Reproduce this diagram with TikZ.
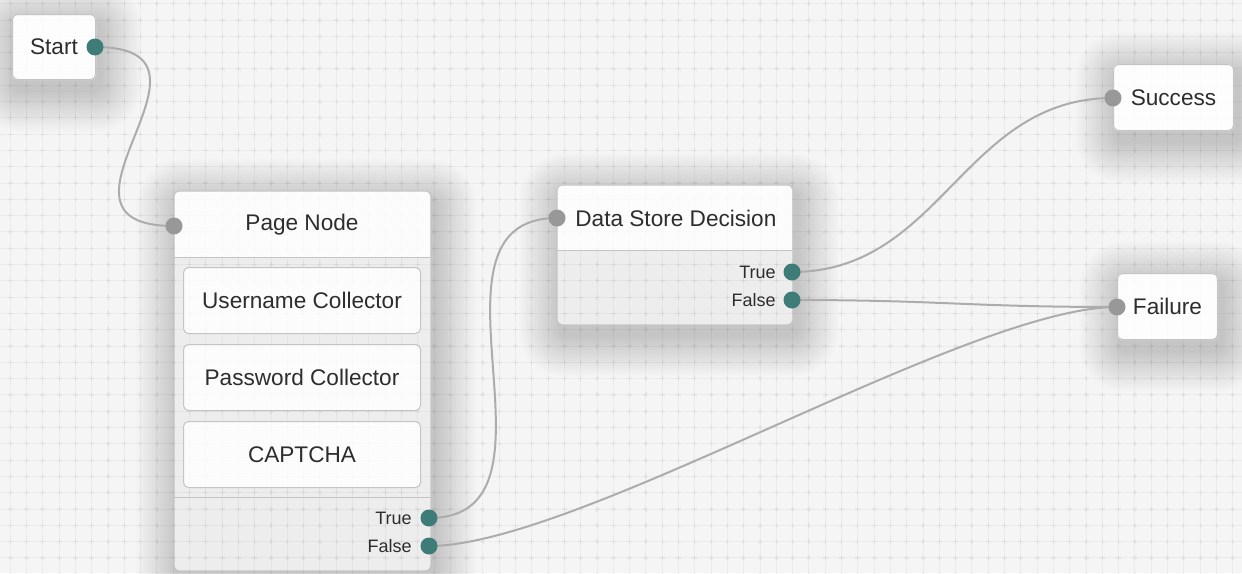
\documentclass[tikz,border=0pt]{standalone}
\usepackage{fontspec}
\setmainfont{Liberation Sans}
\definecolor{bgc}{RGB}{245,245,245}
\definecolor{boxline}{RGB}{196,196,196}
\definecolor{portteal}{RGB}{62,124,119}
\definecolor{portgray}{RGB}{152,152,152}
\definecolor{wirec}{RGB}{172,172,172}
\definecolor{txtc}{RGB}{45,45,45}
\newcommand\bigf{\fontsize{11.3pt}{13pt}\selectfont}
\newcommand\smallf{\fontsize{9pt}{11pt}\selectfont}
\newcommand\softshadow[1]{%
  \foreach \k in {1,...,16}{%
    \pgfmathsetmacro\rr{2.5+\k*1.3}%
    \pgfmathsetmacro\dd{\k*1.3}%
    \fill[black, opacity=0.010, rounded corners=\rr pt]
      ([shift={({-\dd pt+2pt},{\dd pt-5pt})}]#1.north west) rectangle
      ([shift={({\dd pt+2pt},{-\dd pt-5pt})}]#1.south east);
  }%
  \fill[bgc, rounded corners=2.5pt] (#1.north west) rectangle (#1.south east);
}
\pgfdeclarelayer{back}
\pgfdeclarelayer{shad}
\pgfdeclarelayer{gridlayer}
\pgfdeclarelayer{wires}
\pgfsetlayers{back,shad,gridlayer,wires,main}
\tikzset{
  box/.style={draw=boxline, line width=0.5pt, rounded corners=2.5pt, fill=white,
    fill opacity=0.84, text opacity=1, text=txtc, inner sep=0pt, anchor=north west, font=\bigf},
  bigbox/.style={rounded corners=2.5pt, fill=black, fill opacity=0.03, inner sep=0pt, anchor=north west},
  outline/.style={draw=boxline, line width=0.5pt, rounded corners=2.5pt},
  portout/.style={circle, inner sep=0pt, minimum size=8.5pt, fill=portteal},
  portin/.style={circle, inner sep=0pt, minimum size=8.5pt, fill=portgray},
  lbl/.style={text=txtc, inner sep=0pt, font=\bigf},
  plbl/.style={text=txtc, inner sep=0pt, font=\smallf, anchor=east},
  wire/.style={draw=wirec, line width=1pt},
  gridline/.style={draw=black, draw opacity=0.035, line width=0.5pt},
  gridcross/.style={draw=black, draw opacity=0.045, line width=0.6pt},
}
\begin{document}
\begin{tikzpicture}[x=0.5pt,y=-0.5pt]
\useasboundingbox (0,0) rectangle (1242,573);
\begin{pgfonlayer}{back}
\fill[bgc] (0,0) rectangle (1242,573);
\end{pgfonlayer}

% boxes
\node[box, minimum width=41.5pt, minimum height=32.5pt] (start) at (12,14) {Start};
\node[bigbox, minimum width=128pt, minimum height=189.5pt] (page) at (174,191) {};
\node[bigbox, minimum width=117.5pt, minimum height=69.5pt] (dsd) at (557,185) {};
\node[box, minimum width=60pt, minimum height=33pt] (succ) at (1113,64) {Success};
\node[box, minimum width=50pt, minimum height=33pt] (fail) at (1117,273) {Failure};

% shadows
\begin{pgfonlayer}{shad}
\begin{scope}
\clip (0,0) rectangle (1242,573);
\softshadow{start}
\softshadow{page}
\softshadow{dsd}
\softshadow{succ}
\softshadow{fail}
\end{scope}
\end{pgfonlayer}

% grid
\begin{pgfonlayer}{gridlayer}
\path[gridline] \foreach \i in {0,...,76} { ({10.2+16.3*\i},0) -- ++(0,573) };
\path[gridline] \foreach \j in {0,...,35} { (0,{3.7+16.3*\j}) -- ++(1242,0) };
\path[gridcross] \foreach \i in {0,...,76} { \foreach \j in {0,...,35} {
  ({10.2+16.3*\i},{3.7+16.3*\j}) +(-2.5,0) -- +(2.5,0) +(0,-2.5) -- +(0,2.5) } };
\end{pgfonlayer}

% page node structure
\begin{scope}
\clip[rounded corners=2.5pt] (page.north west) rectangle (page.south east);
\fill[white, opacity=0.84] (174,191) rectangle (430,257);
\end{scope}
\draw[boxline, line width=0.5pt] (174,257) -- (430,257) (174,497) -- (430,497);
\draw[outline] (page.north west) rectangle (page.south east);
\node[lbl] (pagetitle) at (302,225) {Page Node};
\node[box, minimum width=118.5pt, minimum height=33pt] (user) at (183,267) {Username Collector};
\node[box, minimum width=118.5pt, minimum height=33pt] (pass) at (183,344) {Password Collector};
\node[box, minimum width=118.5pt, minimum height=33pt] (captcha) at (183,421) {CAPTCHA};
\node[plbl] (pgtruel) at (412,518) {True};
\node[plbl] (pgfalsel) at (412,546) {False};

% data store decision structure
\begin{scope}
\clip[rounded corners=2.5pt] (dsd.north west) rectangle (dsd.south east);
\fill[white, opacity=0.84] (557,185) rectangle (792,250);
\end{scope}
\draw[boxline, line width=0.5pt] (557,250) -- (792,250);
\draw[outline] (dsd.north west) rectangle (dsd.south east);
\node[lbl, anchor=west] (dsdtitle) at (575,218) {Data Store Decision};
\node[plbl] (dsdtruel) at (776,272) {True};
\node[plbl] (dsdfalsel) at (776,300) {False};

% ports
\node[portout] (startout) at (95,47) {};
\node[portin] (pagein) at (174,226) {};
\node[portout] (pgtrue) at (429,518) {};
\node[portout] (pgfalse) at (429,546) {};
\node[portin] (dsdin) at (557,218) {};
\node[portout] (dsdtrue) at (792,272) {};
\node[portout] (dsdfalse) at (792,300) {};
\node[portin] (succin) at (1113,98) {};
\node[portin] (failin) at (1117,307) {};

% wires
\begin{pgfonlayer}{wires}
\draw[wire] (startout.center) .. controls +(150,0) and +(-150,0) .. (pagein.center);
\draw[wire] (pgtrue.center) .. controls +(150,0) and +(-150,0) .. (dsdin.center);
\draw[wire] (pgfalse.center) .. controls +(150,0) and +(-150,0) .. (failin.center);
\draw[wire] (dsdtrue.center) .. controls +(150,0) and +(-150,0) .. (succin.center);
\draw[wire] (dsdfalse.center) .. controls +(150,0) and +(-150,0) .. (failin.center);
\end{pgfonlayer}
\end{tikzpicture}
\end{document}
